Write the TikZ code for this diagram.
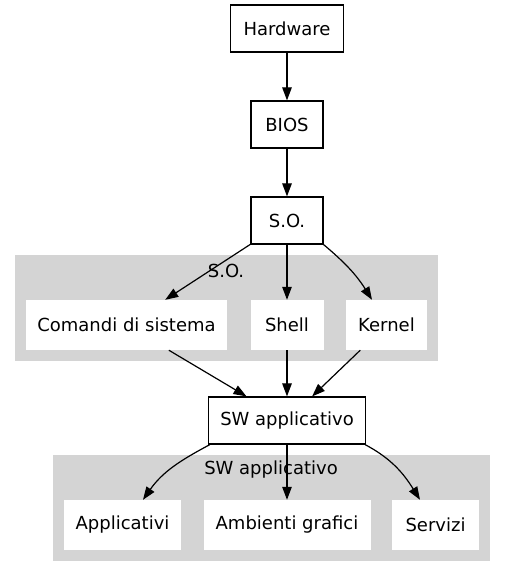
\documentclass[tikz,border=0pt]{standalone}
\usepackage{fontspec}
\setmainfont{DejaVu Sans}
\usetikzlibrary{arrows.meta,calc}
\begin{document}
\begin{tikzpicture}[x=1pt,y=1pt,
  every node/.style={font=\fontsize{18}{21}\selectfont, inner sep=0pt, text=black},
  topbox/.style={draw=black, line width=1.2pt, fill=white, minimum height=47pt},
  inbox/.style={fill=white, minimum height=50pt},
  cluster/.style={fill=black!17, draw=none},
  arr/.style={line width=1.2pt, -{Triangle[length=13pt,width=9.5pt]}}
]
\useasboundingbox (0,0) rectangle (505,576);
% clusters
\fill[cluster] (15,215) rectangle (438,321);
\fill[cluster] (53,15) rectangle (490,121);
\node (lso) at (226,305) {S.O.};
\node (lsw) at (271,106) {SW applicativo};
% nodes
\node[topbox, minimum width=113pt] (hw) at (287,547.5) {Hardware};
\node[topbox, minimum width=72pt] (bios) at (287,451.5) {BIOS};
\node[topbox, minimum width=72pt] (so) at (287,355.5) {S.O.};
\node[inbox, minimum width=201pt] (cmd) at (126.5,251) {Comandi di sistema};
\node[inbox, minimum width=73pt] (sh) at (287,251) {Shell};
\node[inbox, minimum width=81pt] (ker) at (386.5,251) {Kernel};
\node[topbox, minimum width=157pt] (sw) at (287,155.5) {SW applicativo};
\node[inbox, minimum width=117pt] (app) at (122.5,51) {Applicativi};
\node[inbox, minimum width=167pt] (amb) at (287,51) {Ambienti grafici};
\node[inbox, minimum width=87pt] (srv) at (435.5,51) {Servizi};
% edges
\draw[arr] (hw) -- (bios);
\draw[arr] (bios) -- (so);
\draw[arr] (so) -- (cmd);
\draw[arr] (so) -- (sh);
\draw[arr] (so.south east) to[out=-40,in=122] ([xshift=-14.5pt]ker.north);
\draw[arr] (cmd) -- (sw);
\draw[arr] (sh) -- (sw);
\draw[arr] (ker) -- (sw);
\draw[arr] ([xshift=2pt]sw.south west) to[out=-152,in=55] ([xshift=20.5pt]app.north);
\draw[arr] (sw) -- (amb);
\draw[arr] ([xshift=-1pt]sw.south east) to[out=-28,in=122] ([xshift=-15.5pt]srv.north);
\end{tikzpicture}
\end{document}
